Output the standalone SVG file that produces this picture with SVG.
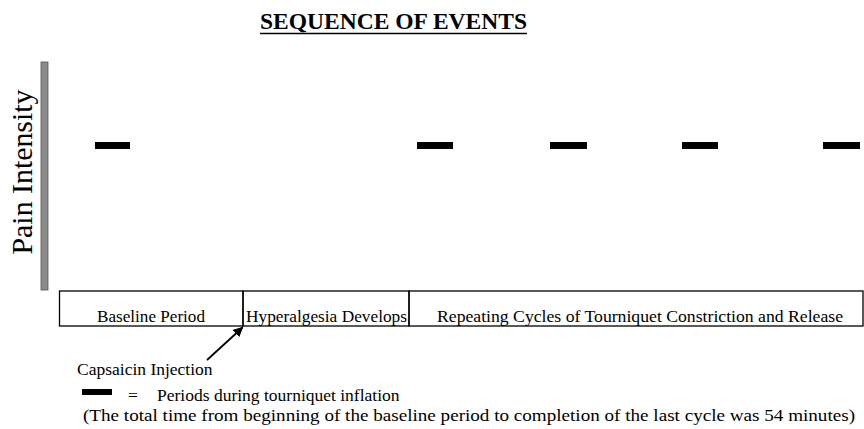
<svg xmlns="http://www.w3.org/2000/svg" width="864" height="429" viewBox="0 0 864 429">
<defs>
<style>
text{font-family:"Liberation Serif","DejaVu Serif","Times New Roman",serif;fill:#000}
.lbl{font-size:17.5px}
.box{fill:none;stroke:#000;stroke-width:1.3}
.dash{fill:#000}
</style>
<marker id="ah" viewBox="0 0 10 10" refX="9" refY="5" markerWidth="10" markerHeight="10" markerUnits="userSpaceOnUse" orient="auto">
<path d="M0,0 L10,5 L0,10 z" fill="#000"/>
</marker>
</defs>
<rect width="864" height="429" fill="#fff"/>
<g id="title">
<text x="393.5" y="29" text-anchor="middle" font-size="23" font-weight="bold" textLength="267" lengthAdjust="spacingAndGlyphs">SEQUENCE OF EVENTS</text>
<line x1="260" y1="33.5" x2="527" y2="33.5" stroke="#000" stroke-width="1.6"/>
</g>
<g id="axis">
<rect x="41" y="62" width="7" height="228" fill="#8a8a8a" stroke="#555" stroke-width="0.8"/>
<text transform="translate(32,172) rotate(-90)" text-anchor="middle" font-size="29" textLength="165" lengthAdjust="spacingAndGlyphs">Pain Intensity</text>
</g>
<g id="dashes">
<rect class="dash" x="95" y="142" width="35" height="7"/>
<rect class="dash" x="417" y="142" width="36" height="7"/>
<rect class="dash" x="550" y="142" width="37" height="7"/>
<rect class="dash" x="682" y="142" width="36" height="7"/>
<rect class="dash" x="823" y="142" width="37" height="7"/>
</g>
<g id="baseline">
<rect class="box" x="59.5" y="291" width="183.5" height="35"/>
<text class="lbl" x="151" y="322" text-anchor="middle" textLength="108" lengthAdjust="spacingAndGlyphs">Baseline Period</text>
</g>
<g id="hyperalgesia">
<rect class="box" x="243" y="291" width="166" height="35"/>
<text class="lbl" x="246" y="322" textLength="161" lengthAdjust="spacingAndGlyphs">Hyperalgesia Develops</text>
</g>
<g id="cycles">
<rect class="box" x="409" y="291" width="454" height="35"/>
<text class="lbl" x="437" y="322" textLength="406" lengthAdjust="spacingAndGlyphs">Repeating Cycles of Tourniquet Constriction and Release</text>
</g>
<g id="connectors">
<line x1="207" y1="360" x2="242.5" y2="327.5" stroke="#000" stroke-width="1.8" marker-end="url(#ah)"/>
</g>
<g id="capsaicin">
<text class="lbl" x="77" y="375">Capsaicin Injection</text>
</g>
<g id="legend">
<rect class="dash" x="82" y="389" width="30" height="6"/>
<text class="lbl" x="128" y="401">=</text>
<text class="lbl" x="157" y="401">Periods during tourniquet inflation</text>
</g>
<g id="note">
<text class="lbl" x="83" y="421" textLength="772" lengthAdjust="spacingAndGlyphs">(The total time from beginning of the baseline period to completion of the last cycle was 54 minutes)</text>
</g>
</svg>
